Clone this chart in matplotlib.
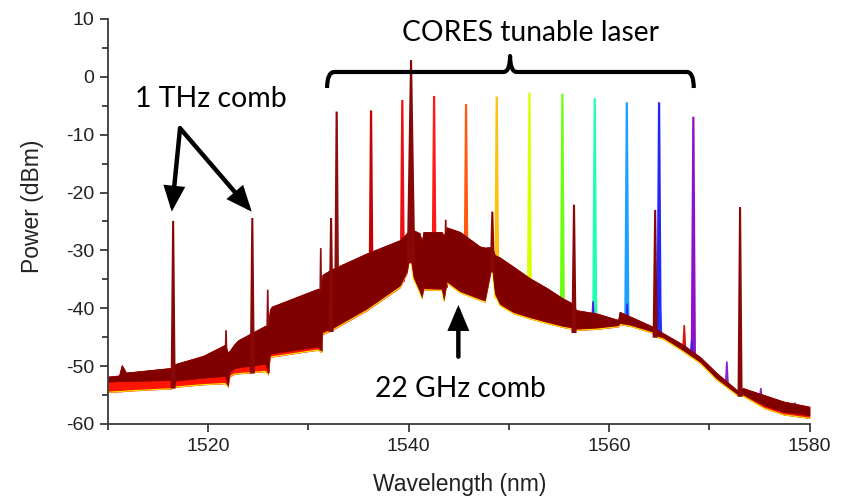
import numpy as np
import matplotlib
matplotlib.use("Agg")
import matplotlib.pyplot as plt
from matplotlib.path import Path
from matplotlib.patches import PathPatch

plt.rcParams['axes.unicode_minus'] = False

# ---- 22 GHz comb envelope: breakpoints ----
band_wl = [1510.0, 1511.1, 1511.37, 1511.8, 1516.3, 1516.5, 1516.75, 1519.5,
           1521.68, 1521.95, 1522.15, 1522.6, 1523.0, 1525.7, 1525.97, 1526.15,
           1526.34, 1530.96, 1531.23, 1531.4, 1532.26, 1535.82, 1539.14, 1539.81,
           1540.14, 1540.47, 1541.1, 1541.3, 1541.47, 1543.3, 1543.5, 1543.8,
           1545.13, 1547.1, 1547.6, 1548.3, 1548.6, 1549.1, 1550.45, 1552.1,
           1553.8, 1555.4, 1556.4, 1556.5, 1556.7, 1558.8, 1560.9, 1561.05,
           1562.1, 1564.4, 1564.6, 1565.4, 1567.4, 1569.08, 1570.75, 1572.74,
           1573.4, 1575.5, 1577.4, 1580.0]
band_top = [-51.8, -51.6, -49.8, -51.1, -50.3, -50.0, -49.6, -48.2,
            -46.3, -47.6, -47.3, -46.2, -45.5, -43.0, -43.0, -40.2,
            -39.7, -36.6, -36.8, -34.2, -33.3, -30.5, -28.2, -27.0,
            -26.5, -26.5, -27.0, -28.5, -26.8, -26.8, -27.5, -26.0,
            -26.8, -29.3, -29.5, -29.4, -30.8, -31.2, -32.8, -34.8,
            -36.5, -38.3, -39.2, -39.5, -40.3, -40.9, -42.0, -40.6,
            -41.4, -43.2, -43.5, -44.3, -46.3, -48.4, -51.2, -54.1,
            -53.8, -55.0, -56.1, -57.0]
band_bottom = [-52.7, -52.6, -52.6, -52.6, -52.4, -53.4, -52.5, -52.0,
               -51.7, -53.4, -51.0, -50.4, -50.2, -49.6, -51.2, -48.0,
               -47.8, -46.6, -47.3, -44.0, -43.5, -40.0, -36.0, -33.7,
               -30.5, -34.5, -37.0, -38.0, -36.5, -36.6, -38.4, -35.3,
               -37.0, -38.3, -38.6, -32.5, -37.4, -39.2, -40.6, -41.5,
               -42.3, -43.0, -43.3, -43.8, -43.5, -43.3, -42.9, -42.5,
               -42.8, -44.0, -44.6, -45.0, -47.2, -49.2, -52.1, -54.7,
               -54.9, -56.8, -57.9, -58.5]
band_floor = [-54.5, -54.4, -54.4, -54.3, -53.9, -53.7, -53.6, -53.2,
              -53.0, -53.6, -51.8, -51.4, -51.3, -50.9, -51.5, -48.6,
              -48.4, -47.2, -47.6, -44.5, -43.9, -40.4, -36.4, -34.0,
              -30.8, -34.9, -37.3, -38.3, -36.8, -36.9, -38.7, -35.6,
              -37.3, -38.6, -38.9, -32.8, -37.7, -39.5, -40.9, -41.8,
              -42.6, -43.3, -43.6, -44.1, -43.8, -43.6, -43.2, -42.8,
              -43.1, -44.3, -44.9, -45.3, -47.5, -49.5, -52.4, -55.0,
              -55.2, -57.3, -58.4, -59.0]

# ---- 1 THz comb lines (incl. pump near 1540 nm) ----
thz_wl = [1516.5, 1524.4, 1532.26, 1540.24, 1548.35, 1556.5, 1564.6, 1573.07]
thz_db = [-24.9, -24.4, -24.4, 2.9, -23.3, -22.1, -23.0, -22.5]

# ---- CORES tunable laser positions ----
laser_wl = [1532.82, 1536.25, 1539.37, 1542.54, 1545.73, 1548.79,
            1552.05, 1555.34, 1558.57, 1561.77, 1564.99, 1568.41]
laser_db = [-6.0, -5.8, -4.0, -3.3, -4.7, -3.4, -2.7, -2.9, -3.7, -4.4, -4.4, -6.9]
laser_colors = ['#8b0d0d', '#c80000', '#ee1010', '#ff1a1a', '#ff5a10', '#ffc010',
                '#dcff00', '#6cff10', '#20ffb0', '#1ea0ff', '#2424ff', '#9010c8']

# ---- small side peaks ----
side_wl = [1521.78, 1525.94, 1531.23, 1543.7, 1567.5,
           1558.4, 1561.8, 1565.1, 1568.25, 1571.75, 1575.14, 1578.56]
side_db = [-43.8, -36.8, -29.6, -24.7, -42.9,
           -38.8, -39.2, -40.0, -45.5, -49.2, -53.8, -56.3]
side_colors = ['#8b0d0d', '#8b0d0d', '#8b0d0d', '#8b0d0d', '#e01010',
               '#5020e0', '#2030ff', '#2030ff', '#4020e0', '#8a20d0', '#8a20d0', '#8a20d0']

fig = plt.figure(figsize=(8.45, 4.97), dpi=100)
ax = fig.add_axes([0.1278, 0.1469, 0.8302, 0.8149])

band_wl_a = np.array(band_wl)


def peaks(wls, dbs, base_arr, colors, hw, lw, z):
    for w, d, c in zip(wls, dbs, colors):
        b = np.interp(w, band_wl_a, base_arr)
        ax.fill([w - hw, w, w + hw], [b, d, b], facecolor=c, edgecolor=c,
                lw=lw, zorder=z, joinstyle='miter')


# laser peaks behind band
peaks(laser_wl, laser_db, np.array(band_bottom), laser_colors, 0.15, 1.6, 1)
peaks(side_wl, side_db, np.array(band_bottom), side_colors, 0.13, 1.2, 1.5)

# band layers
ax.fill_between(band_wl, band_floor, band_top, color='#ff1500', lw=0.4, zorder=2)
ax.plot(band_wl, band_floor, color='#f4f000', lw=0.8, zorder=2.1)
ax.fill_between(band_wl, band_bottom, band_top, color='#800000', lw=0.5,
                edgecolor='#800000', zorder=2.2)

# 1 THz lines on top
for w, d in zip(thz_wl, thz_db):
    b = np.interp(w, band_wl_a, np.array(band_floor))
    hw = 0.32 if d > -10 else 0.15
    ax.fill([w - hw, w, w + hw], [b, d, b], facecolor='#880808',
            edgecolor='#880808', lw=1.5, zorder=3)

ax.set_xlim(1510, 1580)
ax.set_ylim(-60, 10)
ax.set_xticks([1520, 1540, 1560, 1580])
ax.set_xticks([1510, 1530, 1550, 1570], minor=True)
ax.set_yticks(np.arange(-60, 11, 10))
ax.set_yticks(np.arange(-55, 10, 10), minor=True)

for s in ['top', 'right']:
    ax.spines[s].set_visible(False)
for s in ['left', 'bottom']:
    ax.spines[s].set_color('#3a3a3a')
    ax.spines[s].set_linewidth(1.3)

tick_font = 'Liberation Sans'
ax.tick_params(which='major', direction='out', length=6, width=1.3, color='#3a3a3a',
               labelsize=14, pad=4)
ax.tick_params(which='minor', direction='out', length=4, width=1.3, color='#3a3a3a')
for lab in ax.get_xticklabels() + ax.get_yticklabels():
    lab.set_fontfamily(tick_font)
    lab.set_color('#222222')

ax.set_xlabel('Wavelength (nm)', fontsize=16.5, family=tick_font, color='#222222')
ax.set_ylabel('Power (dBm)', fontsize=16.5, family=tick_font, color='#222222')
ax.xaxis.set_label_coords(0.502, -0.15)
ax.xaxis.label.set_va('center')
ax.yaxis.set_label_coords(-0.107, 0.538)
ax.yaxis.label.set_va('center')

# ---- annotations ----
ann_font = ['Lato', 'DejaVu Sans']
ax.text(1520.28, -5.16, '1 THz comb', ha='center', va='baseline', fontsize=20.5,
        family=ann_font, color='black')
ax.text(1552.17, 6.25, 'CORES tunable laser', ha='center', va='baseline', fontsize=20.3,
        family=ann_font, color='black', clip_on=False)
ax.text(1545.13, -55.28, '22 GHz comb', ha='center', va='baseline', fontsize=20.3,
        family=ann_font, color='black')

arrow_kw = dict(arrowstyle='-|>,head_length=1.3,head_width=0.55', lw=3.2, color='black',
                shrinkA=0, shrinkB=0, mutation_scale=10, joinstyle='miter')
ax.annotate('', xy=(1516.36, -23.3), xytext=(1517.19, -8.89), arrowprops=arrow_kw, zorder=5)
ax.annotate('', xy=(1524.34, -23.3), xytext=(1517.19, -8.89), arrowprops=arrow_kw, zorder=5)
ax.annotate('', xy=(1544.96, -39.43), xytext=(1544.96, -48.37), arrowprops=arrow_kw, zorder=5)

# bracket over the tunable laser range
verts = [(1531.86, -1.93), (1531.86, 0.84), (1532.6, 0.84),
         (1549.45, 0.84),
         (1550.12, 0.84), (1550.12, 3.6),
         (1550.12, 0.84), (1550.8, 0.84),
         (1567.75, 0.84),
         (1568.45, 0.84), (1568.45, -1.93)]
codes = [Path.MOVETO, Path.CURVE3, Path.CURVE3,
         Path.LINETO,
         Path.CURVE3, Path.CURVE3,
         Path.CURVE3, Path.CURVE3,
         Path.LINETO,
         Path.CURVE3, Path.CURVE3]
ax.add_patch(PathPatch(Path(verts, codes), facecolor='none', edgecolor='black',
                       lw=3.0, capstyle='butt', joinstyle='round', zorder=5,
                       clip_on=False))

fig.savefig('out.png', dpi=100)
